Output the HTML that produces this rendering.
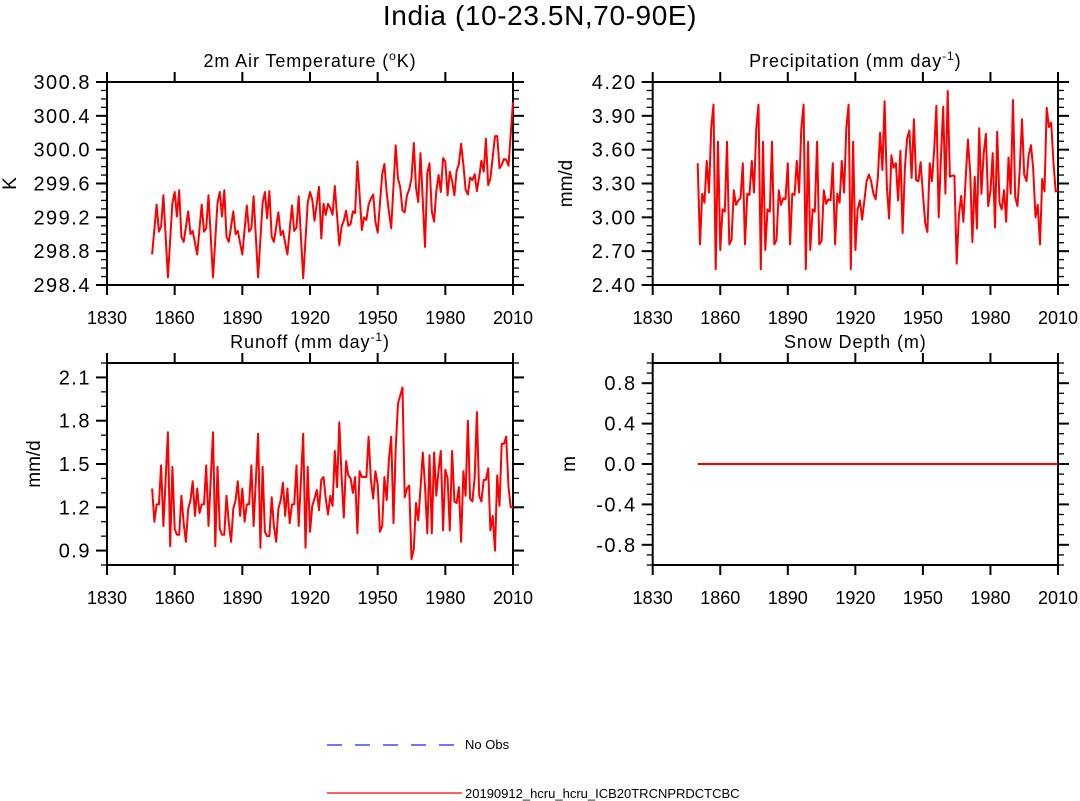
<!DOCTYPE html>
<html><head><meta charset="utf-8"><style>
body{margin:0;background:#fff;}
svg{display:block;font-family:"Liberation Sans",sans-serif;}
</style></head><body>
<svg id="fig" width="1080" height="801" viewBox="0 0 1080 801" xmlns="http://www.w3.org/2000/svg">
<text x="540" y="25" font-size="28" letter-spacing="0.6" text-anchor="middle">India (10-23.5N,70-90E)</text>
<g id="panels"></g>
<g>
<line x1="327" y1="745" x2="462" y2="745" stroke="#2222ff" stroke-width="1.3" stroke-dasharray="15,13"/>
<text x="465" y="749" font-size="13">No Obs</text>
<line x1="327" y1="793" x2="462" y2="793" stroke="#ff0000" stroke-width="1.3"/>
<text x="465" y="798" font-size="13">20190912_hcru_hcru_ICB20TRCNPRDCTCBC</text>
</g>
</svg>
<script>
const tasYears=[0,2,3,4,5,7,9,10,11,12,13,14,16,17,18,20,22,23,24,25,27,29,30,31,32,33,34,36,37,38,40,42,43,44,45,47,49,50,51,52,53,54,56,57,58,60,62,63,64,65,67,69,70,71,72,74,75,76,77,78,79,80,81,83,84,85,86,87,88,89,90,91,93,94,95,96,97,98,99,100,102,103,104,105,106,108,109,110,111,112,113,114,115,116,117,118,119,121,122,123,124,125,126,127,128,129,130,131,132,133,134,135,136,137,138,139,140,141,142,143,144,145,146,147,148,149,150,152,153,154,155,156,157,158,160];
const tasVals=[298.76,299.35,299.03,299.09,299.46,298.49,299.37,299.50,299.21,299.52,298.97,298.91,299.27,299.00,299.04,298.76,299.35,299.03,299.07,299.46,298.49,299.37,299.50,299.21,299.52,298.97,298.91,299.27,299.00,299.04,298.76,299.34,299.03,299.07,299.45,298.49,299.37,299.50,299.19,299.51,298.97,298.91,299.26,298.99,299.04,298.76,299.34,299.04,299.08,299.45,298.48,299.37,299.50,299.41,299.16,299.56,298.95,299.36,299.23,299.36,299.31,299.23,299.57,298.87,299.09,299.16,299.28,299.10,299.12,299.27,299.25,299.86,299.05,299.20,299.17,299.35,299.42,299.47,299.15,299.02,299.71,299.83,299.49,299.27,299.07,300.05,299.66,299.56,299.28,299.26,299.46,299.53,299.66,300.08,299.55,299.38,299.96,298.85,299.72,299.84,299.27,299.15,299.51,299.70,299.50,299.90,299.86,299.46,299.74,299.63,299.46,299.75,299.83,300.07,299.82,299.53,299.47,299.67,299.64,299.71,299.51,299.68,299.87,299.74,300.13,299.58,299.66,300.16,300.16,299.78,299.82,299.89,299.88,299.81,300.56];
const prVals=[3.48,2.76,3.21,3.13,3.50,3.22,3.79,4.00,2.54,3.67,2.71,3.07,3.05,3.67,2.76,2.80,3.24,3.11,3.15,3.17,3.48,2.76,3.21,3.20,3.50,3.22,3.79,4.00,2.54,3.67,2.71,3.07,3.05,3.67,2.76,2.80,3.24,3.11,3.17,3.16,3.48,2.76,3.21,3.20,3.50,3.22,3.79,4.00,2.54,3.67,2.71,3.07,3.05,3.67,2.76,2.79,3.24,3.12,3.16,3.15,3.48,2.76,3.21,3.13,3.50,3.22,3.79,4.00,2.54,3.67,2.71,3.07,3.15,2.98,3.15,3.32,3.38,3.32,3.21,3.16,3.36,3.75,3.42,4.03,3.27,2.99,3.55,3.44,3.48,3.15,3.59,2.86,3.44,3.70,3.77,3.35,3.87,3.33,3.32,3.49,3.21,2.95,2.87,3.48,3.32,3.60,3.99,3.00,3.53,3.98,3.21,4.12,3.36,3.37,3.37,2.59,3.02,3.19,2.96,3.35,3.69,3.40,2.78,3.36,2.90,3.79,3.21,3.57,3.74,3.10,3.24,3.57,2.91,3.76,3.13,3.07,3.24,2.96,3.53,3.21,4.04,3.18,3.10,3.42,3.87,3.38,3.32,3.55,3.64,3.43,3.00,3.11,2.76,3.34,3.23,3.97,3.80,3.84,3.48,3.23,3.24];
const mrroYears=[0,1,2,3,4,5,7,8,9,10,11,12,13,14,15,16,17,18,19,20,21,22,23,24,25,27,28,29,30,31,32,33,34,35,36,37,38,39,40,41,42,43,44,45,47,48,49,50,51,52,53,54,55,56,57,58,59,60,61,62,63,64,65,67,68,69,70,71,72,73,74,75,76,77,78,79,80,81,82,83,84,85,86,87,88,89,90,91,92,93,94,95,96,97,98,99,100,101,102,103,104,105,106,107,108,109,111,112,113,114,115,116,117,118,119,120,121,122,123,124,125,126,127,128,129,130,131,132,133,134,135,136,137,138,139,140,141,142,143,144,145,146,147,148,149,150,151,152,153,154,155,156,157,158,159,160];
const mrroVals=[1.33,1.10,1.22,1.22,1.49,1.07,1.72,0.93,1.48,1.05,1.01,1.01,1.28,1.09,0.96,1.19,1.25,1.38,1.14,1.33,1.16,1.22,1.22,1.49,1.07,1.72,0.93,1.48,1.05,1.01,1.01,1.28,1.09,0.96,1.19,1.25,1.38,1.14,1.33,1.10,1.22,1.22,1.49,1.07,1.71,0.92,1.48,1.03,1.00,1.00,1.27,1.07,0.96,1.19,1.25,1.37,1.14,1.33,1.09,1.22,1.22,1.49,1.07,1.71,0.92,1.48,1.03,1.21,1.26,1.32,1.18,1.39,1.41,1.26,1.15,1.28,1.21,1.59,1.34,1.79,1.41,1.13,1.52,1.42,1.40,1.30,1.41,1.02,1.45,1.41,1.41,1.41,1.69,1.39,1.26,1.45,1.36,1.03,1.07,1.41,1.25,1.53,1.69,1.09,1.61,1.92,2.03,1.27,1.33,1.35,0.84,0.91,1.23,1.11,1.33,1.58,1.35,1.02,1.56,1.02,1.58,1.28,1.46,1.59,1.04,1.46,1.40,1.04,1.59,1.24,1.23,1.34,0.96,1.45,1.28,1.80,1.26,1.24,1.41,1.86,1.28,1.24,1.39,1.39,1.47,1.04,1.14,0.90,1.42,1.21,1.64,1.64,1.69,1.34,1.20,1.20];
const snowYears=[0,160];
const snowVals=[0,0];
const xTicks=[1830,1860,1890,1920,1950,1980,2010];

const NS='http://www.w3.org/2000/svg';
const host=document.getElementById('panels');
function mk(tag,attrs,parent){const e=document.createElementNS(NS,tag);for(const k in attrs)e.setAttribute(k,attrs[k]);parent.appendChild(e);return e;}
function panel(cfg){
  const g=mk('g',{},host);
  
  
  const L=cfg.x0,R=cfg.x1,T=cfg.y0,B=cfg.y1;
  const xs=v=>L+(v-1830)/180*(R-L);
  const ys=v=>B-(v-cfg.ymin)/(cfg.ymax-cfg.ymin)*(B-T);
  const fr=mk('rect',{x:L,y:T,width:R-L,height:B-T,fill:'none',stroke:'#000','stroke-width':2},g);
  
  
  xTicks.forEach(t=>{const x=xs(t);
    mk('line',{x1:x,y1:B,x2:x,y2:B+10,stroke:'#000','stroke-width':2},g);
    mk('line',{x1:x,y1:T,x2:x,y2:T-10,stroke:'#000','stroke-width':2},g);
    const tx=mk('text',{x:x,y:B+39,'font-size':18,'text-anchor':'middle'},g);tx.textContent=t;
    
    
  });
  const n=Math.round((cfg.ymax-cfg.ymin)/cfg.minor);
  for(let i=0;i<=n;i++){const v=cfg.ymin+i*cfg.minor;const y=ys(v);
    const isMaj=Math.abs(((v-cfg.majStart)/cfg.major)-Math.round((v-cfg.majStart)/cfg.major))<1e-6;
    const len=isMaj?11:6;
    mk('line',{x1:L,y1:y,x2:L-len,y2:y,stroke:'#000','stroke-width':isMaj?2:1.3},g);
    mk('line',{x1:R,y1:y,x2:R+len,y2:y,stroke:'#000','stroke-width':isMaj?2:1.3},g);
    if(isMaj && v>=cfg.majStart-1e-9 && v<=cfg.majEnd+1e-9){
      const tx=mk('text',{x:L-16,y:y+7,'font-size':20,'letter-spacing':1.5,'text-anchor':'end'},g);tx.textContent=v.toFixed(cfg.dec);
      
      
    }
  }
  const yt=mk('text',{x:cfg.ylabX,y:(T+B)/2,'font-size':19,'text-anchor':'middle',transform:`rotate(-90 ${cfg.ylabX} ${(T+B)/2})`},g);
  yt.textContent=cfg.ylab;
  
  
  const tt=mk('text',{x:(L+R)/2,y:T-15,'font-size':18,'letter-spacing':0.9,'text-anchor':'middle'},g);
  tt.innerHTML=cfg.title;
  
  
  const pts=cfg.years.map((yr,i)=>xs(1850+yr).toFixed(1)+','+ys(cfg.vals[i]).toFixed(1)).join(' ');
  const pl=mk('polyline',{points:pts,fill:'none',stroke:'#ff0000','stroke-width':2,'stroke-linejoin':'round'},g);
  
  
}
const prYears=prVals.map((v,i)=>i);
panel({name:'panel-air-temperature',x0:107,x1:513,y0:82,y1:285,ymin:298.4,ymax:300.8,minor:0.1,major:0.4,majStart:298.4,majEnd:300.8,dec:1,ylab:'K',ylabX:16,title:'2m Air Temperature (<tspan font-size="12" dy="-7">o</tspan><tspan dy="7">K)</tspan>',years:tasYears,vals:tasVals});
panel({name:'panel-precipitation',x0:652.7,x1:1058,y0:82,y1:285,ymin:2.4,ymax:4.2,minor:0.075,major:0.3,majStart:2.4,majEnd:4.2,dec:2,ylab:'mm/d',ylabX:572,title:'Precipitation (mm day<tspan font-size="12" dy="-7">-1</tspan><tspan dy="7">)</tspan>',years:prYears,vals:prVals});
panel({name:'panel-runoff',x0:107,x1:513,y0:363,y1:565,ymin:0.8,ymax:2.2,minor:0.1,major:0.3,majStart:0.9,majEnd:2.1,dec:1,ylab:'mm/d',ylabX:40,title:'Runoff (mm day<tspan font-size="12" dy="-7">-1</tspan><tspan dy="7">)</tspan>',years:mrroYears,vals:mrroVals});
panel({name:'panel-snow-depth',x0:652.7,x1:1058,y0:363,y1:565,ymin:-1.0,ymax:1.0,minor:0.1,major:0.4,majStart:-0.8,majEnd:0.8,dec:1,ylab:'m',ylabX:575,title:'Snow Depth (m)',years:snowYears,vals:snowVals});
</script>
</body></html>
